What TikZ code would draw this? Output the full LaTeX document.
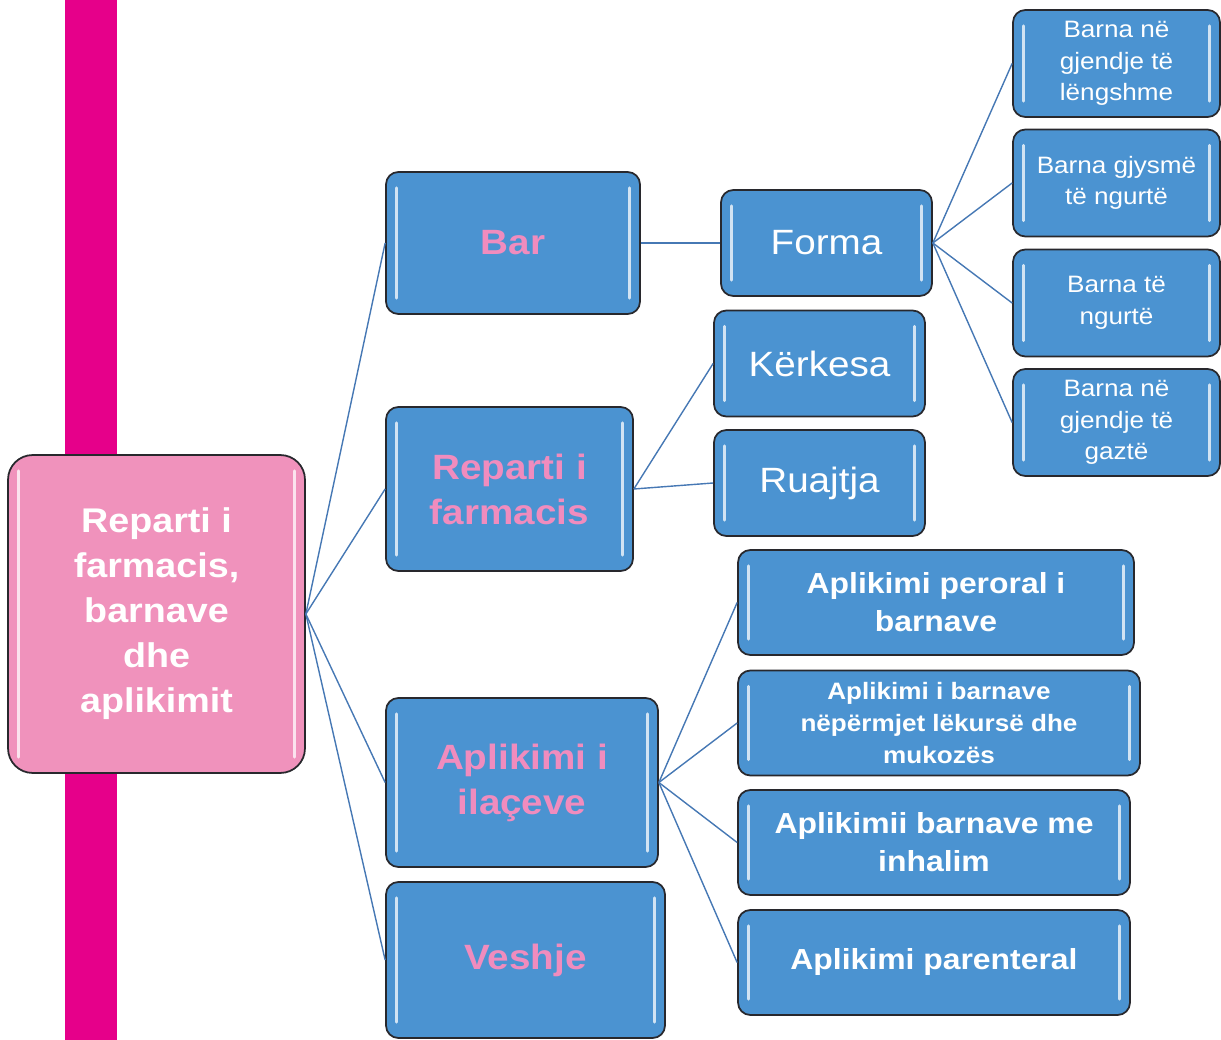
\documentclass[tikz,border=0pt]{standalone}
\usepackage{fontspec}
\setmainfont{Liberation Sans}[FakeStretch=1.1]
\usepackage{tikz}
\usetikzlibrary{positioning}
\definecolor{barmag}{RGB}{230,0,138}
\definecolor{rootpink}{RGB}{240,146,188}
\definecolor{textpink}{RGB}{240,140,190}
\definecolor{boxblue}{RGB}{75,147,209}
\definecolor{boxedge}{RGB}{40,40,45}
\definecolor{linkblue}{RGB}{70,120,180}
\tikzset{
  gloss/.style={path picture={
    \draw[white, opacity=0.75, line width=1.6pt, line cap=round]
      ([xshift=6pt,yshift=-9pt]path picture bounding box.north west) --
      ([xshift=6pt,yshift=9pt]path picture bounding box.south west);
    \draw[white, opacity=0.75, line width=1.6pt, line cap=round]
      ([xshift=-6pt,yshift=-9pt]path picture bounding box.north east) --
      ([xshift=-6pt,yshift=9pt]path picture bounding box.south east);}},
  bluebox/.style={rectangle, draw=boxedge, fill=boxblue, line width=1pt,
    rounded corners=7pt, align=center, inner sep=2pt, gloss},
  rootbox/.style={rectangle, draw=boxedge, fill=rootpink, line width=1pt,
    rounded corners=14pt, align=center, text=white,
    font=\bfseries\fontsize{19.5}{25.6}\selectfont, gloss},
  mainbox/.style={bluebox, text=textpink, font=\bfseries\fontsize{20}{25.6}\selectfont},
  formbox/.style={bluebox, text=white, font=\fontsize{20}{25}\selectfont,
    minimum width=4.22cm, minimum height=2.12cm},
  statebox/.style={bluebox, text=white, font=\fontsize{13.5}{18}\selectfont,
    minimum width=4.14cm, minimum height=2.14cm},
  appbox/.style={bluebox, text=white, font=\bfseries\fontsize{16.5}{21.6}\selectfont,
    minimum height=2.1cm},
  link/.style={line width=0.8pt, color=linkblue}
}
\begin{document}
\begin{tikzpicture}[x=0.02cm, y=-0.02cm]
  \useasboundingbox (0,0) rectangle (1221,1040);
  % Side strip
  \fill[barmag] (65,0) rectangle (117,1040);

  % Root
  \node[rootbox, minimum width=5.94cm, minimum height=6.36cm] (root) at (156.5,614)
    {Reparti i\\farmacis,\\barnave\\dhe\\aplikimit};

  % Main branches
  \node[mainbox, minimum width=5.08cm, minimum height=2.84cm] (bar) at (513,243) {Bar};
  \node[mainbox, minimum width=4.94cm, minimum height=3.28cm] (reparti) at (509.5,489) {Reparti i\\farmacis};
  \node[mainbox, minimum width=5.44cm, minimum height=3.38cm] (aplikimi) at (522,782.5) {Aplikimi i\\ilaçeve};
  \node[mainbox, minimum width=5.58cm, minimum height=3.12cm] (veshje) at (525.5,960) {Veshje};

  % Second level
  \node[formbox] (forma) at (826.5,243) {Forma};
  \node[formbox] (kerkesa) at (819.5,363.5) {Kërkesa};
  \node[formbox] (ruajtja) at (819.5,483) {Ruajtja};

  % Forms of drugs
  \node[statebox] (lengshme) at (1116.5,63.5) {Barna në\\gjendje të\\lëngshme};
  \node[statebox] (gjysme) at (1116.5,183) {Barna gjysmë\\të ngurtë};
  \node[statebox] (ngurte) at (1116.5,303) {Barna të\\ngurtë};
  \node[statebox] (gazte) at (1116.5,422.5) {Barna në\\gjendje të\\gaztë};

  % Ways of application
  \node[appbox, minimum width=7.92cm] (peroral) at (936,602.5) {Aplikimi peroral i\\barnave};
  \node[appbox, minimum width=8.04cm, font=\bfseries\fontsize{13.5}{18}\selectfont] (lekure) at (939,723)
    {Aplikimi i barnave\\nëpërmjet lëkursë dhe\\mukozës};
  \node[appbox, minimum width=7.84cm] (inhalim) at (934,842.5) {Aplikimii barnave me\\inhalim};
  \node[appbox, minimum width=7.84cm] (parenteral) at (934,962.5) {Aplikimi parenteral};

  % Connectors
  \foreach \child in {bar, reparti, aplikimi, veshje}
    \draw[link] (root.east) -- (\child.west);
  \draw[link] (bar.east) -- (forma.west);
  \foreach \child in {lengshme, gjysme, ngurte, gazte}
    \draw[link] (forma.east) -- (\child.west);
  \foreach \child in {kerkesa, ruajtja}
    \draw[link] (reparti.east) -- (\child.west);
  \foreach \child in {peroral, lekure, inhalim, parenteral}
    \draw[link] (aplikimi.east) -- (\child.west);
\end{tikzpicture}
\end{document}
